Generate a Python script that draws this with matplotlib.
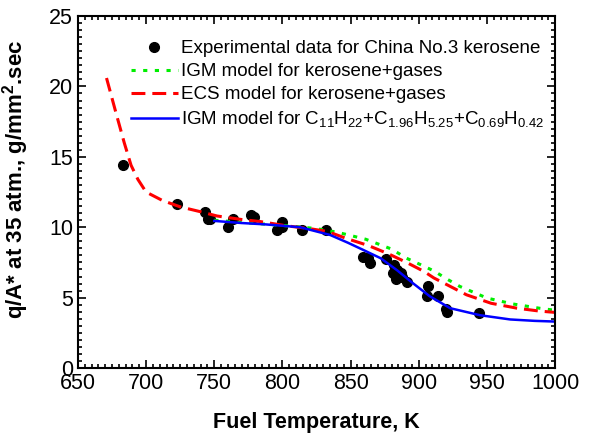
import matplotlib
matplotlib.use('Agg')
import matplotlib.pyplot as plt
from matplotlib.ticker import MultipleLocator
import numpy as np

plt.rcParams['font.family'] = ['Liberation Sans', 'DejaVu Sans']
plt.rcParams['mathtext.fontset'] = 'custom'
plt.rcParams['mathtext.rm'] = 'Liberation Sans'
plt.rcParams['mathtext.it'] = 'Liberation Sans:italic'
plt.rcParams['mathtext.bf'] = 'Liberation Sans:bold'
plt.rcParams['lines.scale_dashes'] = False

# experimental data, China No.3 kerosene
exp_T = [683, 723, 743, 745.5, 747, 760, 764, 777, 779, 796, 800, 800, 814, 832,
         859, 863, 864, 876, 882, 881, 884, 885, 887, 883, 888, 891,
         907, 906, 914, 920, 920.5, 944]
exp_q = [14.45, 11.65, 11.1, 10.55, 10.6, 10.05, 10.6, 10.85, 10.75, 9.8, 10.4, 10.0, 9.8, 9.8,
         7.9, 7.8, 7.45, 7.75, 7.3, 6.75, 6.95, 6.65, 6.75, 6.3, 6.5, 6.1,
         5.85, 5.1, 5.1, 4.2, 4.0, 3.9]

# IGM model, kerosene+gases
igm_T = [750, 770, 790, 810, 825, 840, 861, 880, 891, 900, 911, 921, 930, 950, 969, 989, 1000]
igm_q = [10.5, 10.35, 10.2, 10.05, 9.9, 9.65, 9.15, 8.45, 7.8, 7.4, 6.9, 6.3, 5.8, 4.97, 4.55, 4.24, 4.1]

# ECS model, kerosene+gases
ecs_T = [671, 678, 684, 689, 694, 700, 712, 725, 740, 752, 770, 784, 803, 820, 833,
         847, 863, 878, 891, 904, 911, 923, 935, 953, 972, 988, 1000]
ecs_q = [20.6, 18.1, 16.0, 14.4, 13.4, 12.5, 11.9, 11.45, 11.1, 10.8, 10.55, 10.4, 10.1, 9.9, 9.7,
         9.2, 8.7, 8.1, 7.5, 6.85, 6.4, 5.8, 5.2, 4.6, 4.25, 4.05, 3.95]

# IGM model, C11H22+C1.96H5.25+C0.69H0.42
igm2_T = [750, 770, 788, 813, 835, 848, 859, 872, 884, 896, 908, 923, 945, 967, 985, 1000]
igm2_q = [10.45, 10.3, 10.2, 10.0, 9.45, 8.9, 8.4, 7.8, 6.95, 6.0, 5.1, 4.25, 3.75, 3.45, 3.35, 3.3]

fig = plt.figure(figsize=(5.9, 4.34), dpi=100)
ax = fig.add_axes([0.132, 0.152, 0.809, 0.811])

ax.plot(exp_T, exp_q, 'o', color='black', markersize=7, label='Experimental data for China No.3 kerosene')
ax.plot(igm_T, igm_q, color='#00ee00', lw=2.2, dashes=(3, 5.4), label='IGM model for kerosene+gases')
ax.plot(ecs_T, ecs_q, color='#ff0000', lw=2.2, dashes=(10, 5), label='ECS model for kerosene+gases')
ax.plot(igm2_T, igm2_q, color='#0000ff', lw=1.8,
        label='IGM model for C$_{11}$H$_{22}$+C$_{1.96}$H$_{5.25}$+C$_{0.69}$H$_{0.42}$')

ax.set_xlim(650, 1000)
ax.set_ylim(0, 25)
ax.xaxis.set_major_locator(MultipleLocator(50))
ax.xaxis.set_minor_locator(MultipleLocator(5))
ax.yaxis.set_major_locator(MultipleLocator(5))
ax.yaxis.set_minor_locator(MultipleLocator(0.5))
ax.tick_params(which='both', direction='in', top=True, right=True, width=1.2, labelsize=15.5)
ax.tick_params(which='major', length=6)
ax.tick_params(which='minor', length=3)
for s in ax.spines.values():
    s.set_linewidth(1.5)

ax.set_xlabel('Fuel Temperature, K', fontsize=15.5, fontweight='bold', labelpad=13)
ax.set_ylabel('q/A* at 35 atm., g/mm$^\\mathbf{2}$.sec', fontsize=16, fontweight='bold')
ax.yaxis.set_label_coords(-0.098, 0.535)

ax.legend(loc='upper left', bbox_to_anchor=(0.111, 0.931), frameon=False, fontsize=13.5,
          handlelength=2.5, handletextpad=0.15, labelspacing=0.31, borderpad=0, borderaxespad=0)

fig.savefig('out.png', dpi=100)
